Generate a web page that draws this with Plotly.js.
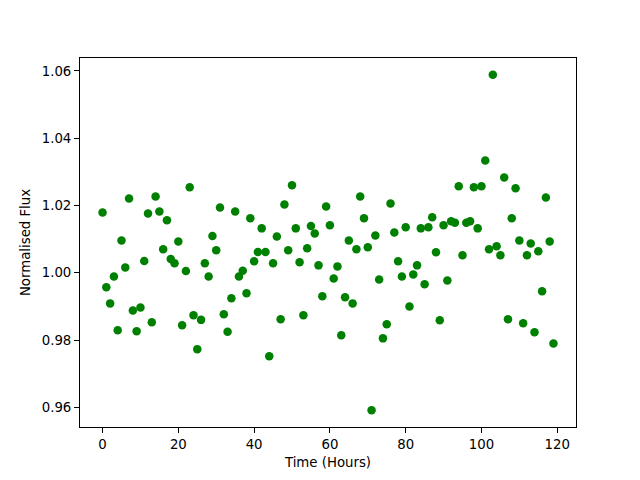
<!DOCTYPE html>
<html>
<head>
<meta charset="utf-8">
<script src="https://cdn.plot.ly/plotly-3.0.1.min.js"></script>
<style>html,body{margin:0;padding:0;background:#fff;}#chart{width:640px;height:480px;}</style>
</head>
<body>
<div id="chart"></div>
<script>
const hours = [];
for (let i = 0; i < 120; i++) hours.push(i);
const flux = [
1.0179,0.9957,0.9909,0.9989,0.9829,1.0096,1.0016,1.0221,0.9888,0.9826,
0.9897,1.0035,1.0176,0.9853,1.0227,1.0182,1.0070,1.0156,1.0041,1.0028,
1.0093,0.9844,1.0005,1.0254,0.9874,0.9773,0.9860,1.0028,0.9989,1.0109,
1.0067,1.0194,0.9877,0.9825,0.9924,1.0182,0.9989,1.0006,0.9939,1.0162,
1.0034,1.0062,1.0132,1.0062,0.9752,1.0028,1.0108,0.9862,1.0203,1.0067,
1.0260,1.0132,1.0031,0.9874,1.0073,1.0139,1.0117,1.0022,0.9930,1.0197,
1.0141,0.9983,1.0019,0.9814,0.9927,1.0096,0.9909,1.0070,1.0227,1.0162,
1.0076,0.9591,1.0111,0.9980,0.9805,0.9847,1.0206,1.0120,1.0034,0.9989,
1.0135,0.9900,0.9995,1.0022,1.0132,0.9966,1.0135,1.0165,1.0061,0.9859,
1.0141,0.9977,1.0153,1.0149,1.0257,1.0052,1.0149,1.0153,1.0254,1.0132,
1.0257,1.0334,1.0070,1.0589,1.0079,1.0052,1.0283,0.9862,1.0162,1.0251,
1.0096,0.9850,1.0052,1.0087,0.9823,1.0064,0.9945,1.0224,1.0093,0.9790
];
const xTicks = [0,20,40,60,80,100,120];
const yTicks = [0.96,0.98,1.00,1.02,1.04,1.06];

const font = {family: 'DejaVu Sans, sans-serif', size: 13.3, color: '#000'};
const trace = {
  x: hours, y: flux, type: 'scatter', mode: 'markers',
  marker: {color: '#008000', size: 8.5, line: {width: 0}},
  hoverinfo: 'skip'
};
const axisBase = {
  showline: true, mirror: true, linecolor: '#000', linewidth: 1,
  ticks: 'outside', ticklen: 5, tickwidth: 1, tickcolor: '#000',
  showgrid: false, zeroline: false, tickfont: font
};
const layout = {
  width: 640, height: 480,
  margin: {l: 80, r: 64, t: 58, b: 53, pad: 0},
  paper_bgcolor: '#fff', plot_bgcolor: '#fff',
  font: font, showlegend: false,
  xaxis: Object.assign({}, axisBase, {
    range: [-5.95, 124.95], tickvals: xTicks, ticktext: xTicks.map(String),
    title: {text: 'Time (Hours)', font: font, standoff: 6}
  }),
  yaxis: Object.assign({}, axisBase, {
    range: [0.95415, 1.06385], tickvals: yTicks, ticktext: yTicks.map(v => v.toFixed(2)),
    title: {text: 'Normalised Flux', font: font, standoff: 8}
  })
};
Plotly.newPlot('chart', [trace], layout, {staticPlot: true, displayModeBar: false});
</script>
</body>
</html>
